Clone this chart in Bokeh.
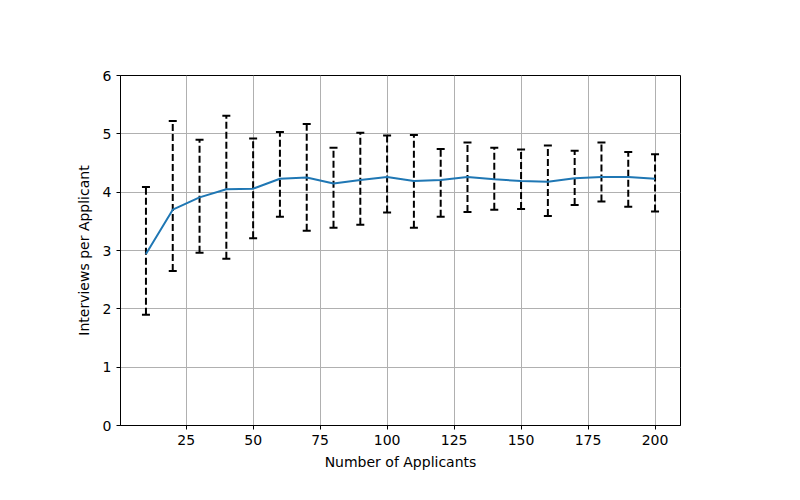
from bokeh.plotting import figure
from bokeh.models import ColumnDataSource, Whisker, TeeHead, Range1d, FixedTicker
from bokeh.embed import file_html
from bokeh.resources import INLINE

applicants = [10, 20, 30, 40, 50, 60, 70, 80, 90, 100, 110, 120, 130, 140, 150, 160, 170, 180, 190, 200]
mean_interviews = [2.94, 3.70, 3.91, 4.05, 4.06, 4.23, 4.25, 4.15, 4.21, 4.26, 4.19, 4.21, 4.26, 4.22, 4.19, 4.18, 4.24, 4.26, 4.26, 4.23]
upper_bound = [4.09, 5.22, 4.90, 5.31, 4.92, 5.03, 5.17, 4.76, 5.02, 4.97, 4.98, 4.74, 4.85, 4.76, 4.73, 4.80, 4.71, 4.85, 4.69, 4.65]
lower_bound = [1.90, 2.65, 2.96, 2.86, 3.21, 3.58, 3.34, 3.39, 3.44, 3.65, 3.39, 3.58, 3.66, 3.70, 3.71, 3.59, 3.78, 3.84, 3.75, 3.67]
x_ticks = [25, 50, 75, 100, 125, 150, 175, 200]
y_ticks = [0, 1, 2, 3, 4, 5, 6]

src = ColumnDataSource(dict(x=applicants, y=mean_interviews, up=upper_bound, lo=lower_bound))

p = figure(width=800, height=500, output_backend="svg", toolbar_location=None,
           x_range=Range1d(0.5, 209.5), y_range=Range1d(0, 6),
           min_border_left=120, min_border_right=120, min_border_top=75, min_border_bottom=75)
p.frame_width = 560
p.frame_height = 350

p.outline_line_color = "black"
p.outline_line_width = 1
p.outline_line_alpha = 1

for ax in (p.xaxis[0], p.yaxis[0]):
    ax.axis_line_color = "black"
    ax.major_tick_line_color = "black"
    ax.major_tick_out = 4
    ax.major_tick_in = 0
    ax.minor_tick_line_color = None
    ax.major_label_text_font = "DejaVu Sans"
    ax.major_label_text_font_size = "14px"
    ax.major_label_text_color = "black"
    ax.axis_label_text_font = "DejaVu Sans"
    ax.axis_label_text_font_size = "14px"
    ax.axis_label_text_font_style = "normal"
    ax.axis_label_text_color = "black"

p.xaxis.ticker = FixedTicker(ticks=x_ticks)
p.yaxis.ticker = FixedTicker(ticks=y_ticks)
p.xaxis.axis_label = "Number of Applicants"
p.yaxis.axis_label = "Interviews per Applicant"
p.xaxis.axis_label_standoff = 6
p.yaxis.axis_label_standoff = 8

p.xgrid.ticker = FixedTicker(ticks=x_ticks)
p.ygrid.ticker = FixedTicker(ticks=y_ticks)
p.grid.grid_line_color = "#b0b0b0"
p.grid.grid_line_width = 1
p.grid.grid_line_alpha = 1

w = Whisker(source=src, base="x", upper="up", lower="lo", dimension="height",
            line_color="black", line_width=2, line_dash="7 3",
            upper_head=TeeHead(size=8, line_color="black", line_width=2),
            lower_head=TeeHead(size=8, line_color="black", line_width=2))
p.add_layout(w)

p.line("x", "y", source=src, line_color="#1f77b4", line_width=2)

open("out.html", "w").write(file_html(p, INLINE))
